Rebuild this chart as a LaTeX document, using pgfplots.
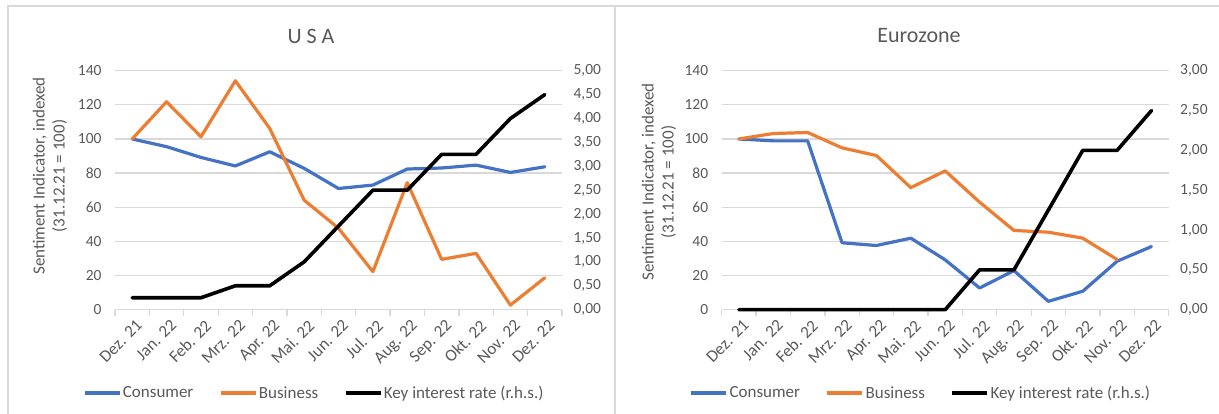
\documentclass[border=0pt]{standalone}
\usepackage{pgfplots}
\pgfplotsset{compat=1.18}
\usepackage{fontspec}
\setmainfont{Carlito}
\definecolor{cblue}{HTML}{4472C4}
\definecolor{corange}{HTML}{ED7D31}
\definecolor{tgray}{HTML}{595959}
\definecolor{ggray}{HTML}{D9D9D9}

\pgfplotsset{
  base/.style={
    scale only axis, width=447pt, height=239pt,
    xmin=-0.5, xmax=12.5, ymin=0, anchor=south west,
    font=\fontsize{15.5}{17}\selectfont,
    tick label style={text=tgray},
    /pgf/number format/assume math mode=true,
    major tick length=0pt,
    clip=false,
  },
  leftax/.style={
    base, ymax=140, ytick={0,20,...,140},
    ymajorgrids, grid style={ggray, line width=1.3pt},
    axis x line*=bottom, axis y line*=left,
    x axis line style={ggray, line width=1.3pt, -},
    y axis line style={draw=none},
    xtick={0,...,12},
    xticklabels={Dez. 21,Jan. 22,Feb. 22,Mrz. 22,Apr. 22,Mai. 22,Jun. 22,Jul. 22,Aug. 22,Sep. 22,Okt. 22,Nov. 22,Dez. 22},
    x tick label style={xshift=3pt, yshift=-9pt, rotate=45, anchor=north east, inner sep=0pt, font=\fontsize{17}{19}\selectfont},
    minor xtick={-0.5,0.5,...,12.5},
    tick align=outside, minor tick length=6pt,
    minor tick style={ggray, line width=1.3pt},
    yticklabel style={xshift=-10pt},
  },
  rightax/.style={
    base, axis x line=none, axis y line*=right,
    y axis line style={draw=none},
    yticklabel style={xshift=8pt, /pgf/number format/.cd, fixed, fixed zerofill, precision=2, use comma},
    legend columns=3,
    legend style={draw=none, fill=none, anchor=center, font=\fontsize{17}{19}\selectfont, text=tgray,
      /tikz/every even column/.append style={column sep=24pt}, inner sep=0pt,
      nodes={inner sep=1.5pt}},
    legend cell align=left,
    legend image code/.code={\draw[#1, line width=3.5pt, line cap=butt] (0pt,0pt) -- (35pt,0pt);},
  },
  ser/.style={line width=3.2pt, line join=round, line cap=round, mark=none},
}

\begin{document}
\begin{tikzpicture}[x=1pt,y=1pt]
\useasboundingbox (0,0) rectangle (1219,414);
\draw[ggray, line width=1.5pt] (8,-2) -- (8,408) -- (1225,408);
\draw[ggray, line width=1.5pt] (615,-2) -- (615,408);

% ---------------- USA ----------------
\node[text=tgray, font=\fontsize{22}{24}\selectfont] at (311,378) {U S A};
\node[rotate=90, align=center, text=tgray, font=\fontsize{17}{20}\selectfont] at (50,238) {Sentiment Indicator, indexed\\(31.12.21 = 100)};

\begin{axis}[leftax, at={(115pt,104.3pt)}]
\addplot[ser, cblue] coordinates {(0,100) (1,95.5) (2,89.2) (3,84.2) (4,92.5) (5,82.8) (6,71) (7,73) (8,82.4) (9,83) (10,84.7) (11,80.4) (12,83.7)};
\addplot[ser, corange] coordinates {(0,100) (1,121.8) (2,101.3) (3,134.1) (4,106.2) (5,64.2) (6,47.7) (7,22.3) (8,74.4) (9,29.5) (10,33) (11,2.7) (12,18.7)};
\end{axis}
\begin{axis}[rightax, at={(115pt,104.3pt)}, ymax=5, ytick={0,0.5,...,5},
  legend style={at={(0.445,-0.3485)}}]
\addlegendimage{ser, cblue}\addlegendentry{Consumer}
\addlegendimage{ser, corange}\addlegendentry{Business}
\addplot[ser, black, line width=3.6pt] coordinates {(0,0.25) (1,0.25) (2,0.25) (3,0.5) (4,0.5) (5,1.0) (6,1.75) (7,2.5) (8,2.5) (9,3.25) (10,3.25) (11,4.0) (12,4.5)};
\addlegendentry{Key interest rate (r.h.s.)}
\end{axis}

% ---------------- Eurozone ----------------
\node[text=tgray, font=\fontsize{22}{24}\selectfont] at (919,378) {Eurozone};
\node[rotate=90, align=center, text=tgray, font=\fontsize{17}{20}\selectfont] at (659,232) {Sentiment Indicator, indexed\\(31.12.21 = 100)};

\begin{axis}[leftax, at={(721.7pt,104.3pt)}]
\addplot[ser, cblue] coordinates {(0,100) (1,98.9) (2,98.9) (3,39.2) (4,37.6) (5,41.9) (6,29.2) (7,12.7) (8,22.9) (9,4.9) (10,10.8) (11,28.4) (12,37)};
\addplot[ser, corange] coordinates {(0,100) (1,103.2) (2,103.8) (3,94.8) (4,90.3) (5,71.5) (6,81.3) (7,63) (8,46.4) (9,45.4) (10,41.9) (11,29.4)};
\end{axis}
\begin{axis}[rightax, at={(721.7pt,104.3pt)}, ymax=3, ytick={0,0.5,...,3},
  legend style={at={(0.445,-0.3485)}}]
\addlegendimage{ser, cblue}\addlegendentry{Consumer}
\addlegendimage{ser, corange}\addlegendentry{Business}
\addplot[ser, black, line width=3.6pt] coordinates {(0,0) (1,0) (2,0) (3,0) (4,0) (5,0) (6,0) (7,0.5) (8,0.5) (9,1.25) (10,2.0) (11,2.0) (12,2.5)};
\addlegendentry{Key interest rate (r.h.s.)}
\end{axis}
\end{tikzpicture}
\end{document}
